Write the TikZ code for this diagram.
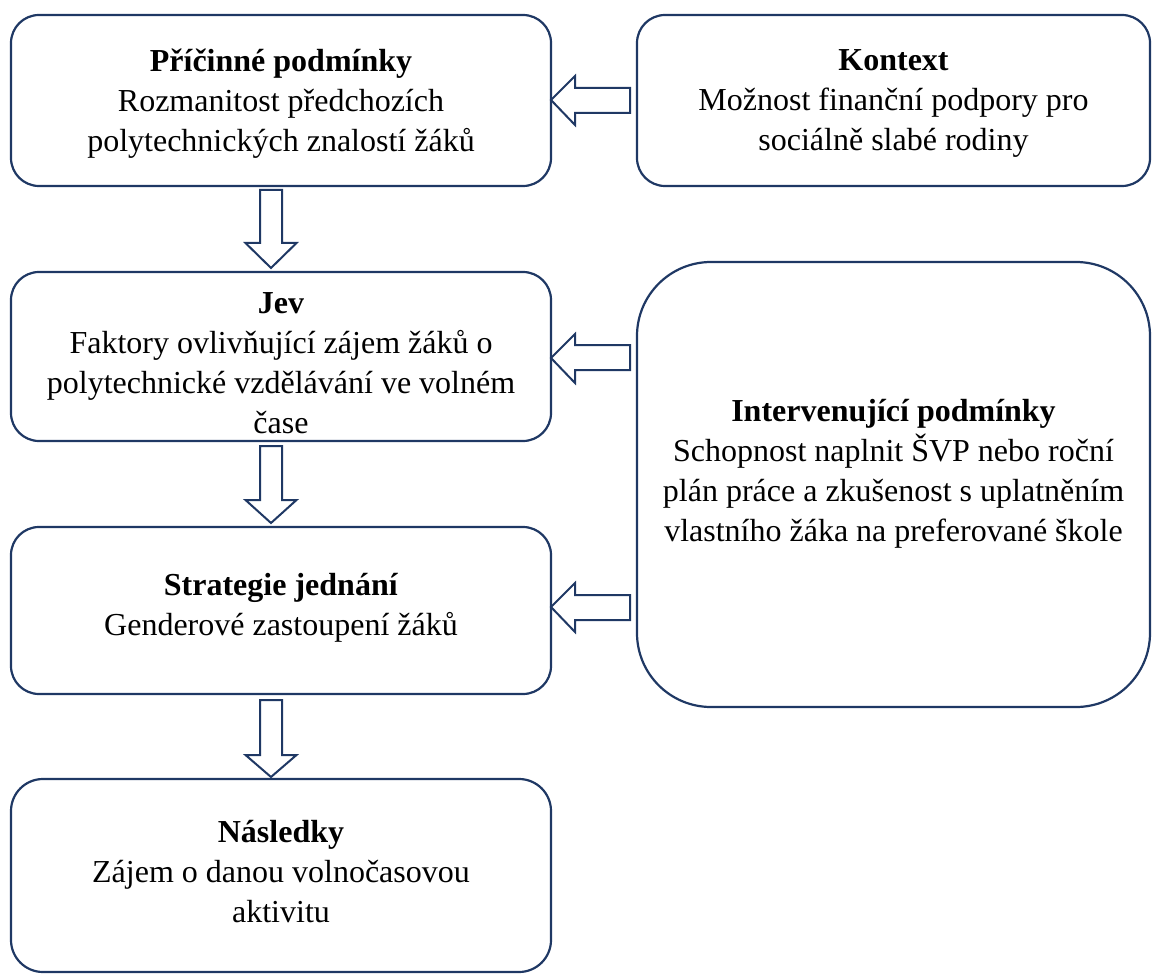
\documentclass[tikz,border=0pt]{standalone}
\usepackage{fontspec}
\setmainfont{Liberation Serif}
\definecolor{navy}{HTML}{1F3864}
\newcommand\boxlines[1]{\begin{tabular}[t]{@{}c@{}}#1\end{tabular}}
\tikzset{
  frame/.style={draw=navy, line width=2.2pt, rounded corners=#1, inner sep=0pt, outer sep=0pt},
  lbl/.style={anchor=base, inner sep=0pt, outer sep=0pt, text=black, font=\fontsize{32}{40}\selectfont},
  blockarrow/.style={draw=navy, line width=2pt, fill=white, line join=miter},
}
\begin{document}
\begin{tikzpicture}[x=1pt,y=-1pt]
\useasboundingbox (0,0) rectangle (1159,976);
% boxes
\node[frame=28pt, minimum width=540pt, minimum height=171pt] (P) at (281,100.5) {};
\node[frame=28pt, minimum width=513pt, minimum height=171pt] (K) at (893.5,100.5) {};
\node[frame=28pt, minimum width=540pt, minimum height=169pt] (J) at (281,356.5) {};
\node[frame=74pt, minimum width=513pt, minimum height=445pt] (I) at (893.5,484.5) {};
\node[frame=28pt, minimum width=540pt, minimum height=167pt] (S) at (281,610.5) {};
\node[frame=32pt, minimum width=540pt, minimum height=193pt] (N) at (281,875.5) {};
% texts
\node[lbl] (Pt) at (281,72) {\boxlines{\textbf{Příčinné podmínky}\\Rozmanitost předchozích\\polytechnických znalostí žáků}};
\node[lbl] (Kt) at (893.5,71) {\boxlines{\textbf{Kontext}\\Možnost finanční podpory pro\\sociálně slabé rodiny}};
\node[lbl] (Jt) at (281,313) {\boxlines{\textbf{Jev}\\Faktory ovlivňující zájem žáků o\\polytechnické vzdělávání ve volném\\čase}};
\node[lbl] (It) at (893.5,421) {\boxlines{\textbf{Intervenující podmínky}\\Schopnost naplnit ŠVP nebo roční\\plán práce a zkušenost s uplatněním\\vlastního žáka na preferované škole}};
\node[lbl] (St) at (281,595) {\boxlines{\textbf{Strategie jednání}\\Genderové zastoupení žáků}};
\node[lbl] (Nt) at (281,842) {\boxlines{\textbf{Následky}\\Zájem o danou volnočasovou\\aktivitu}};
% left block arrows
\draw[blockarrow] (630,88) -- (575,88) -- (575,76) -- (551,100) -- (575,125) -- (575,113) -- (630,113) -- cycle;
\draw[blockarrow] (630,345) -- (575,345) -- (575,334) -- (551,358) -- (575,383) -- (575,370) -- (630,370) -- cycle;
\draw[blockarrow] (630,595) -- (575,595) -- (575,583) -- (551,607) -- (575,632) -- (575,620) -- (630,620) -- cycle;
% down block arrows
\draw[blockarrow] (260,190) -- (260,243) -- (245.5,243) -- (271,268) -- (296.5,243) -- (282,243) -- (282,190) -- cycle;
\draw[blockarrow] (260,446) -- (260,500) -- (245.5,500) -- (271,523) -- (296.5,500) -- (282,500) -- (282,446) -- cycle;
\draw[blockarrow] (260,700) -- (260,755) -- (245.5,755) -- (271,777) -- (296.5,755) -- (282,755) -- (282,700) -- cycle;
\end{tikzpicture}
\end{document}
